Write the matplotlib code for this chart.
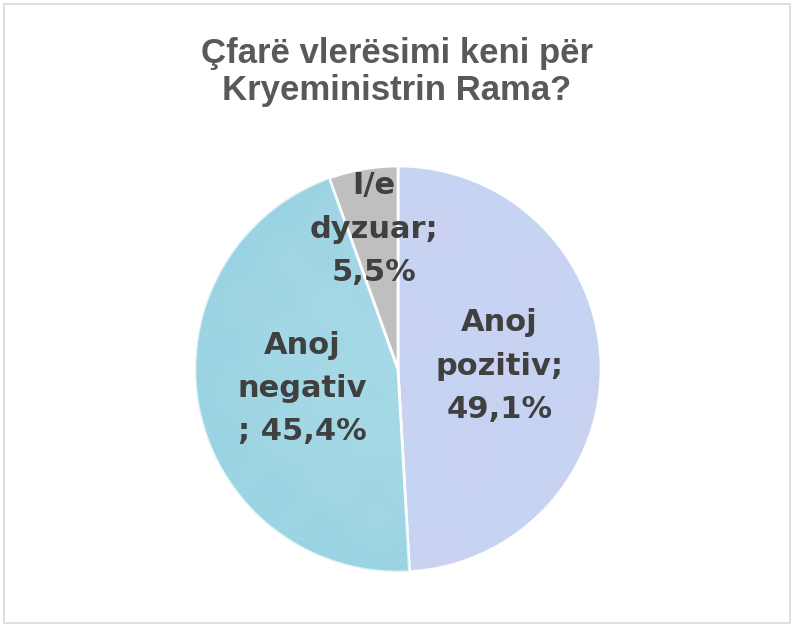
import matplotlib.pyplot as plt
from matplotlib.patches import Rectangle
import numpy as np

# data
categories = ["Anoj pozitiv", "Anoj negativ", "I/e dyzuar"]
shares = [49.1, 45.4, 5.5]
label_lines = [["Anoj", "pozitiv;"], ["Anoj", "negativ", ";"], ["I/e", "dyzuar;"]]
colors = ["#c7d3f2", "#a6d9e6", "#bfbfbf"]
label_dist = [0.50, 0.48, 0.70]

title = "Çfarë vlerësimi keni për\nKryeministrin Rama?"

W, H = 794, 629
fig = plt.figure(figsize=(W / 100, H / 100), dpi=100)
fig.patch.set_facecolor("white")

# chart border
fig.add_artist(Rectangle((4 / W, 1 - 623 / H), 786 / W, 619 / H,
                         transform=fig.transFigure, fill=False,
                         edgecolor="#d9d9d9", linewidth=1.2))

# pie axes: centre (398, 369), radius 203 px
cx, cy, r = 398, 369, 203
ax = fig.add_axes([(cx - r) / W, 1 - (cy + r) / H, 2 * r / W, 2 * r / H])
wedges, _ = ax.pie(shares, colors=colors, startangle=90, counterclock=False,
                   radius=1, wedgeprops=dict(edgecolor="white", linewidth=2))

# faint shading on the two picture-filled slices (fixed pattern, not data)
g = np.linspace(-1, 1, 400)
X, Y = np.meshgrid(g, g)
mottle = np.sin(9 * X + 4 * Y) * np.sin(8 * Y - 3 * X)
tex1 = np.ones((400, 400, 4))
tex1[..., 0], tex1[..., 1], tex1[..., 2] = 0.92, 0.78, 0.94
tex1[..., 3] = np.clip(0.12 * mottle, 0, 0.12)
rr = np.hypot(X, Y)
tex2 = np.ones((400, 400, 4))
tex2[..., 0], tex2[..., 1], tex2[..., 2] = 0.45, 0.75, 0.84
tex2[..., 3] = np.clip(0.22 * rr ** 2 + 0.04 * np.sin(14 * X) * np.sin(14 * Y), 0, 0.25)
for w, tex in ((wedges[0], tex1), (wedges[1], tex2)):
    im = ax.imshow(tex, extent=(-1, 1, -1, 1), origin="lower", zorder=1.5,
                   interpolation="bilinear")
    im.set_clip_path(w)
ax.set_xlim(-1, 1)
ax.set_ylim(-1, 1)
ax.set_aspect("equal")
ax.axis("off")

for w, lines, v, d in zip(wedges, label_lines, shares, label_dist):
    ang = np.deg2rad((w.theta1 + w.theta2) / 2)
    pct = f"{v:.1f}%".replace(".", ",")
    if lines[-1] == ";":
        txt = "\n".join(lines[:-1]) + "\n; " + pct
    else:
        txt = "\n".join(lines) + "\n" + pct
    ax.text(d * np.cos(ang), d * np.sin(ang), txt, ha="center", va="center",
            fontsize=22, fontweight="bold", color="#404040",
            family=["DejaVu Sans"], linespacing=1.62, zorder=3)

fig.text(397 / W, 1 - 72 / H, title, ha="center", va="center",
         fontsize=25, fontweight="bold", color="#595959",
         family=["Liberation Sans", "DejaVu Sans"], linespacing=1.12)

fig.savefig("out.png", dpi=100)
